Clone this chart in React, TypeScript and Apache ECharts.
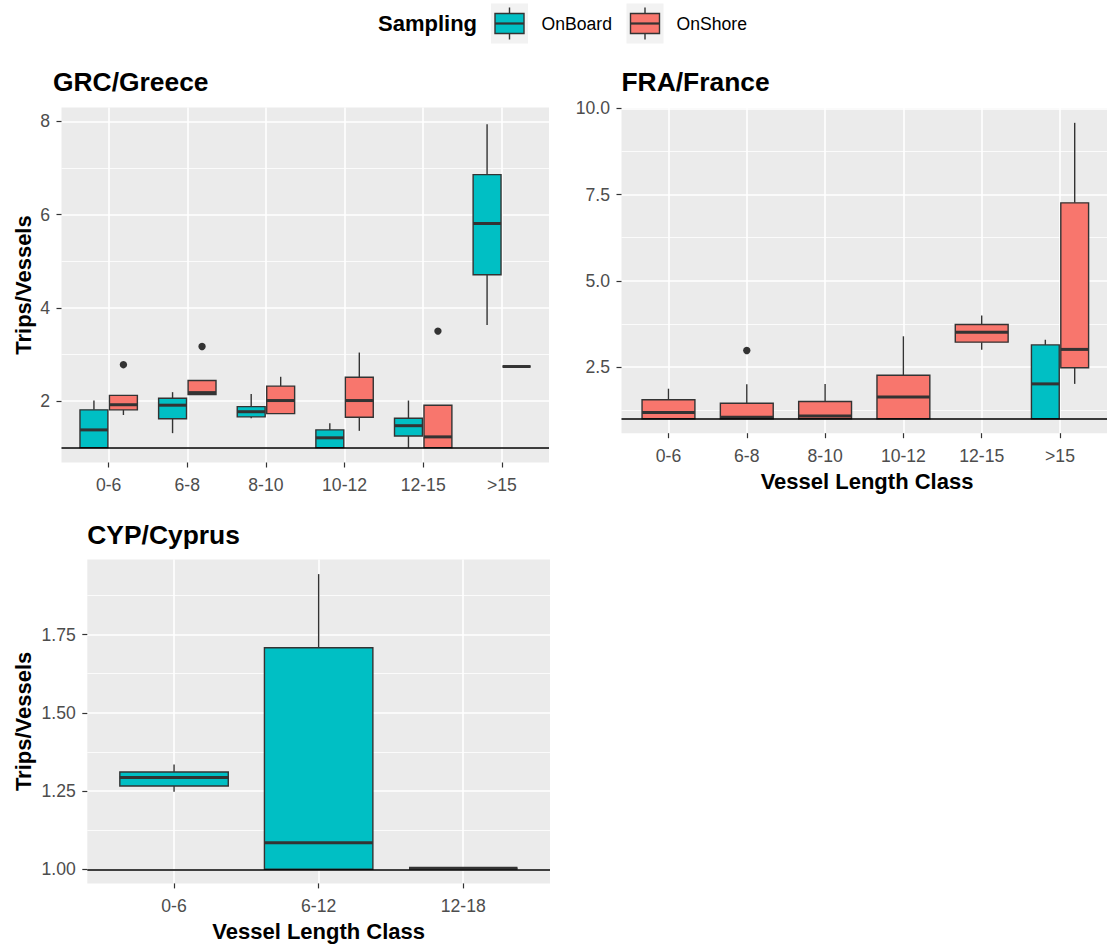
import React, { useEffect, useRef } from "react";
import * as echarts from "echarts";

// ---------- DATA ----------
// each box: [min, q1, median, q3, max]
const grcCategories = ["0-6", "6-8", "8-10", "10-12", "12-15", ">15"];
const grcOnBoard = [
  [1.0, 1.0, 1.38, 1.81, 2.01],
  [1.31, 1.62, 1.91, 2.06, 2.19],
  [1.63, 1.66, 1.77, 1.88, 2.15],
  [1.0, 1.0, 1.21, 1.38, 1.52],
  [1.0, 1.25, 1.47, 1.63, 2.01],
  [3.63, 4.71, 5.81, 6.86, 7.94],
];
const grcOnShore = [
  [1.7, 1.81, 1.92, 2.12, 2.12],
  [2.14, 2.14, 2.18, 2.44, 2.44],
  [1.73, 1.73, 2.01, 2.32, 2.52],
  [1.36, 1.65, 2.01, 2.51, 3.04],
  [1.0, 1.0, 1.23, 1.91, 1.91],
  [2.74, 2.74, 2.74, 2.74, 2.74],
];
const grcOnBoardOutliers: number[][] = [];
const grcOnShoreOutliers = [
  [0, 2.78],
  [1, 3.17],
  [4, 3.5],
];
const grcMajorTicks = [2, 4, 6, 8];
const grcMinorTicks = [1, 3, 5, 7];

const fraCategories = ["0-6", "6-8", "8-10", "10-12", "12-15", ">15"];
const fraOnBoard = [null, null, null, null, null, [1.0, 1.0, 2.01, 3.14, 3.29]];
const fraOnShore = [
  [1.0, 1.0, 1.18, 1.55, 1.87],
  [1.0, 1.0, 1.04, 1.45, 2.0],
  [1.0, 1.0, 1.08, 1.5, 2.01],
  [1.0, 1.0, 1.63, 2.26, 3.39],
  [3.0, 3.22, 3.51, 3.73, 3.99],
  [2.01, 2.48, 3.01, 7.26, 9.58],
];
const fraOnBoardOutliers: number[][] = [];
const fraOnShoreOutliers = [[1, 2.98]];
const fraMajorTicks = [2.5, 5, 7.5, 10];
const fraMinorTicks = [1.25, 3.75, 6.25, 8.75];

const cypCategories = ["0-6", "6-12", "12-18"];
const cypOnBoard = [
  [1.248, 1.266, 1.293, 1.311, 1.335],
  [1.0, 1.0, 1.085, 1.708, 1.943],
  [1.003, 1.003, 1.003, 1.003, 1.003],
];
const cypOnShore = [null, null, null];
const cypOnBoardOutliers: number[][] = [];
const cypOnShoreOutliers: number[][] = [];
const cypMajorTicks = [1.0, 1.25, 1.5, 1.75];
const cypMinorTicks = [1.125, 1.375, 1.625, 1.875];

const referenceLine = 1;
const groupNames = ["OnBoard", "OnShore"];
const groupColors = ["#00BFC4", "#F8766D"];

// ---------- STYLE ----------
const FONT = '"Liberation Sans", Arial, sans-serif';
const PANEL_BG = "#EBEBEB";
const DARK = "#333333";

type Panel = {
  title: string;
  cats: string[];
  groups: (number[] | null)[][];
  outliers: number[][][];
  major: number[];
  minor: number[];
  yMin: number;
  yMax: number;
  digits: number;
  grid: { left: number; top: number; width: number; height: number };
  titlePos: [number, number];
  yTitle: boolean;
  xTitle: boolean;
};

const panels: Panel[] = [
  {
    title: "GRC/Greece",
    cats: grcCategories,
    groups: [grcOnBoard, grcOnShore],
    outliers: [grcOnBoardOutliers, grcOnShoreOutliers],
    major: grcMajorTicks,
    minor: grcMinorTicks,
    yMin: 0.68,
    yMax: 8.3,
    digits: 0,
    grid: { left: 61.5, top: 107.5, width: 487.5, height: 355 },
    titlePos: [53, 82],
    yTitle: true,
    xTitle: false,
  },
  {
    title: "FRA/France",
    cats: fraCategories,
    groups: [fraOnBoard, fraOnShore],
    outliers: [fraOnBoardOutliers, fraOnShoreOutliers],
    major: fraMajorTicks,
    minor: fraMinorTicks,
    yMin: 0.58,
    yMax: 10.01,
    digits: 1,
    grid: { left: 621.5, top: 108, width: 491, height: 325.2 },
    titlePos: [621.5, 81.5],
    yTitle: false,
    xTitle: true,
  },
  {
    title: "CYP/Cyprus",
    cats: cypCategories,
    groups: [cypOnBoard, cypOnShore],
    outliers: [cypOnBoardOutliers, cypOnShoreOutliers],
    major: cypMajorTicks,
    minor: cypMinorTicks,
    yMin: 0.955,
    yMax: 1.99,
    digits: 2,
    grid: { left: 87.3, top: 559.4, width: 462.7, height: 324 },
    titlePos: [87.3, 534.5],
    yTitle: true,
    xTitle: true,
  },
];

function slot(p: Panel, cat: number, g: number) {
  const both = p.groups[0][cat] && p.groups[1][cat];
  if (both) return { offset: g === 0 ? -0.1875 : 0.1875, width: 0.355 };
  const anyPair = p.groups[0].some((v, i) => v && p.groups[1][i]);
  return { offset: 0, width: anyPair ? 0.675 : 0.75 };
}

function buildOption() {
  const grid: any[] = [];
  const xAxis: any[] = [];
  const yAxis: any[] = [];
  const series: any[] = [];
  const graphic: any[] = [];

  panels.forEach((p, pi) => {
    grid.push({
      ...p.grid,
      show: true,
      backgroundColor: PANEL_BG,
      borderWidth: 0,
      containLabel: false,
    });
    const idx = p.cats.map((_, i) => i);
    xAxis.push({
      type: "value",
      gridIndex: pi,
      position: "bottom",
      min: -0.6,
      max: p.cats.length - 0.4,
      axisLine: { show: false, onZero: false },
      axisTick: {
        show: true,
        length: 5,
        customValues: idx,
        lineStyle: { color: DARK, width: 1.2 },
      },
      axisLabel: {
        customValues: idx,
        formatter: (v: number) => p.cats[Math.round(v)] ?? "",
        color: "#4D4D4D",
        fontSize: 17.6,
        fontFamily: FONT,
        margin: 13.5,
      },
      splitLine: { show: true, lineStyle: { color: "#FFFFFF", width: 1.6 } },
    });
    const majorIdx = yAxis.length;
    yAxis.push({
      type: "value",
      gridIndex: pi,
      position: "left",
      min: p.yMin,
      max: p.yMax,
      axisLine: { show: false, onZero: false },
      axisTick: {
        show: true,
        length: 5,
        customValues: p.major,
        lineStyle: { color: DARK, width: 1.2 },
      },
      axisLabel: {
        customValues: p.major,
        formatter: (v: number) => v.toFixed(p.digits),
        color: "#4D4D4D",
        fontSize: 17.6,
        fontFamily: FONT,
        margin: 11.5,
      },
      splitLine: { show: true, lineStyle: { color: "#FFFFFF", width: 1.6 } },
    });
    yAxis.push({
      type: "value",
      gridIndex: pi,
      position: "right",
      min: p.yMin,
      max: p.yMax,
      axisLine: { show: false, onZero: false },
      axisTick: { show: false, customValues: p.minor },
      axisLabel: { show: false, customValues: p.minor },
      splitLine: { show: true, lineStyle: { color: "#FFFFFF", width: 0.8 } },
    });

    p.groups.forEach((arr, g) => {
      const data: any[] = [];
      arr.forEach((b, i) => {
        if (b) data.push([i, ...b]);
      });
      if (!data.length) return;
      series.push({
        type: "custom",
        name: groupNames[g],
        xAxisIndex: pi,
        yAxisIndex: majorIdx,
        encode: { x: 0, y: [1, 2, 3, 4, 5] },
        data,
        z: 3,
        renderItem: (_params: any, api: any) => {
          const c = api.value(0);
          const { offset, width } = slot(p, c, g);
          const cx = c + offset;
          const pMin = api.coord([cx, api.value(1)]);
          const pQ1 = api.coord([cx, api.value(2)]);
          const pMed = api.coord([cx, api.value(3)]);
          const pQ3 = api.coord([cx, api.value(4)]);
          const pMax = api.coord([cx, api.value(5)]);
          const w = api.size([width, 0])[0];
          const x0 = pQ1[0] - w / 2;
          return {
            type: "group",
            children: [
              {
                type: "line",
                shape: { x1: pQ3[0], y1: pQ3[1], x2: pMax[0], y2: pMax[1] },
                style: { stroke: DARK, lineWidth: 1.4 },
              },
              {
                type: "line",
                shape: { x1: pQ1[0], y1: pQ1[1], x2: pMin[0], y2: pMin[1] },
                style: { stroke: DARK, lineWidth: 1.4 },
              },
              {
                type: "rect",
                shape: { x: x0, y: pQ3[1], width: w, height: pQ1[1] - pQ3[1] },
                style: { fill: groupColors[g], stroke: DARK, lineWidth: 1.4 },
              },
              {
                type: "line",
                shape: { x1: x0, y1: pMed[1], x2: x0 + w, y2: pMed[1] },
                style: { stroke: DARK, lineWidth: 3 },
              },
            ],
          };
        },
      });
      const outs = p.outliers[g];
      if (outs.length) {
        series.push({
          type: "custom",
          name: groupNames[g] + " outliers",
          xAxisIndex: pi,
          yAxisIndex: majorIdx,
          encode: { x: 0, y: 1 },
          data: outs,
          z: 4,
          renderItem: (_params: any, api: any) => {
            const c = api.value(0);
            const { offset } = slot(p, c, g);
            const pt = api.coord([c + offset, api.value(1)]);
            return {
              type: "circle",
              shape: { cx: pt[0], cy: pt[1], r: 3.7 },
              style: { fill: DARK },
            };
          },
        });
      }
    });

    // reference line
    series.push({
      type: "line",
      xAxisIndex: pi,
      yAxisIndex: majorIdx,
      data: [],
      z: 6,
      markLine: {
        silent: true,
        symbol: "none",
        label: { show: false },
        lineStyle: { color: "#000000", width: 1.7, type: "solid" },
        data: [{ yAxis: referenceLine }],
      },
    });

    // titles
    graphic.push({
      type: "text",
      x: p.titlePos[0],
      y: p.titlePos[1],
      style: {
        text: p.title,
        font: `bold 26.4px ${FONT}`,
        fill: "#000000",
        align: "left",
        verticalAlign: "middle",
      },
    });
    const gd = p.grid;
    if (p.yTitle) {
      graphic.push({
        type: "text",
        x: 23.5,
        y: gd.top + gd.height / 2,
        rotation: Math.PI / 2,
        style: {
          text: "Trips/Vessels",
          font: `bold 22px ${FONT}`,
          fill: "#000000",
          align: "center",
          verticalAlign: "middle",
        },
      });
    }
    if (p.xTitle) {
      graphic.push({
        type: "text",
        x: gd.left + gd.width / 2,
        y: gd.top + gd.height + 48.5,
        style: {
          text: "Vessel Length Class",
          font: `bold 22px ${FONT}`,
          fill: "#000000",
          align: "center",
          verticalAlign: "middle",
        },
      });
    }
  });

  // legend
  graphic.push({
    type: "text",
    x: 378,
    y: 23.5,
    style: {
      text: "Sampling",
      font: `bold 22px ${FONT}`,
      fill: "#000000",
      align: "left",
      verticalAlign: "middle",
    },
  });
  const keys = [
    { kx: 491, tx: 541.5 },
    { kx: 626.5, tx: 676.5 },
  ];
  keys.forEach((k, g) => {
    const cx = k.kx + 18.5;
    graphic.push({
      type: "group",
      children: [
        { type: "rect", shape: { x: k.kx, y: 3.5, width: 37, height: 40 }, style: { fill: "#F2F2F2" } },
        { type: "line", shape: { x1: cx, y1: 7.5, x2: cx, y2: 13.5 }, style: { stroke: DARK, lineWidth: 1.4 } },
        { type: "line", shape: { x1: cx, y1: 33.5, x2: cx, y2: 39.5 }, style: { stroke: DARK, lineWidth: 1.4 } },
        {
          type: "rect",
          shape: { x: k.kx + 4, y: 13.5, width: 29, height: 20 },
          style: { fill: groupColors[g], stroke: DARK, lineWidth: 1.4 },
        },
        { type: "line", shape: { x1: k.kx + 4, y1: 23.5, x2: k.kx + 33, y2: 23.5 }, style: { stroke: DARK, lineWidth: 2.2 } },
        {
          type: "text",
          x: k.tx,
          y: 23.5,
          style: {
            text: groupNames[g],
            font: `17.6px ${FONT}`,
            fill: "#000000",
            align: "left",
            verticalAlign: "middle",
          },
        },
      ],
    });
  });

  return {
    animation: false,
    backgroundColor: "#FFFFFF",
    grid,
    xAxis,
    yAxis,
    series,
    graphic,
  };
}

export default function App() {
  const ref = useRef<HTMLDivElement>(null);
  useEffect(() => {
    if (!ref.current) return;
    const chart = echarts.init(ref.current, undefined, { renderer: "svg" });
    chart.setOption(buildOption() as any);
    return () => chart.dispose();
  }, []);
  return (
    <div
      ref={ref}
      style={{ position: "fixed", left: 0, top: 0, width: 1107, height: 950, background: "#fff" }}
    />
  );
}
